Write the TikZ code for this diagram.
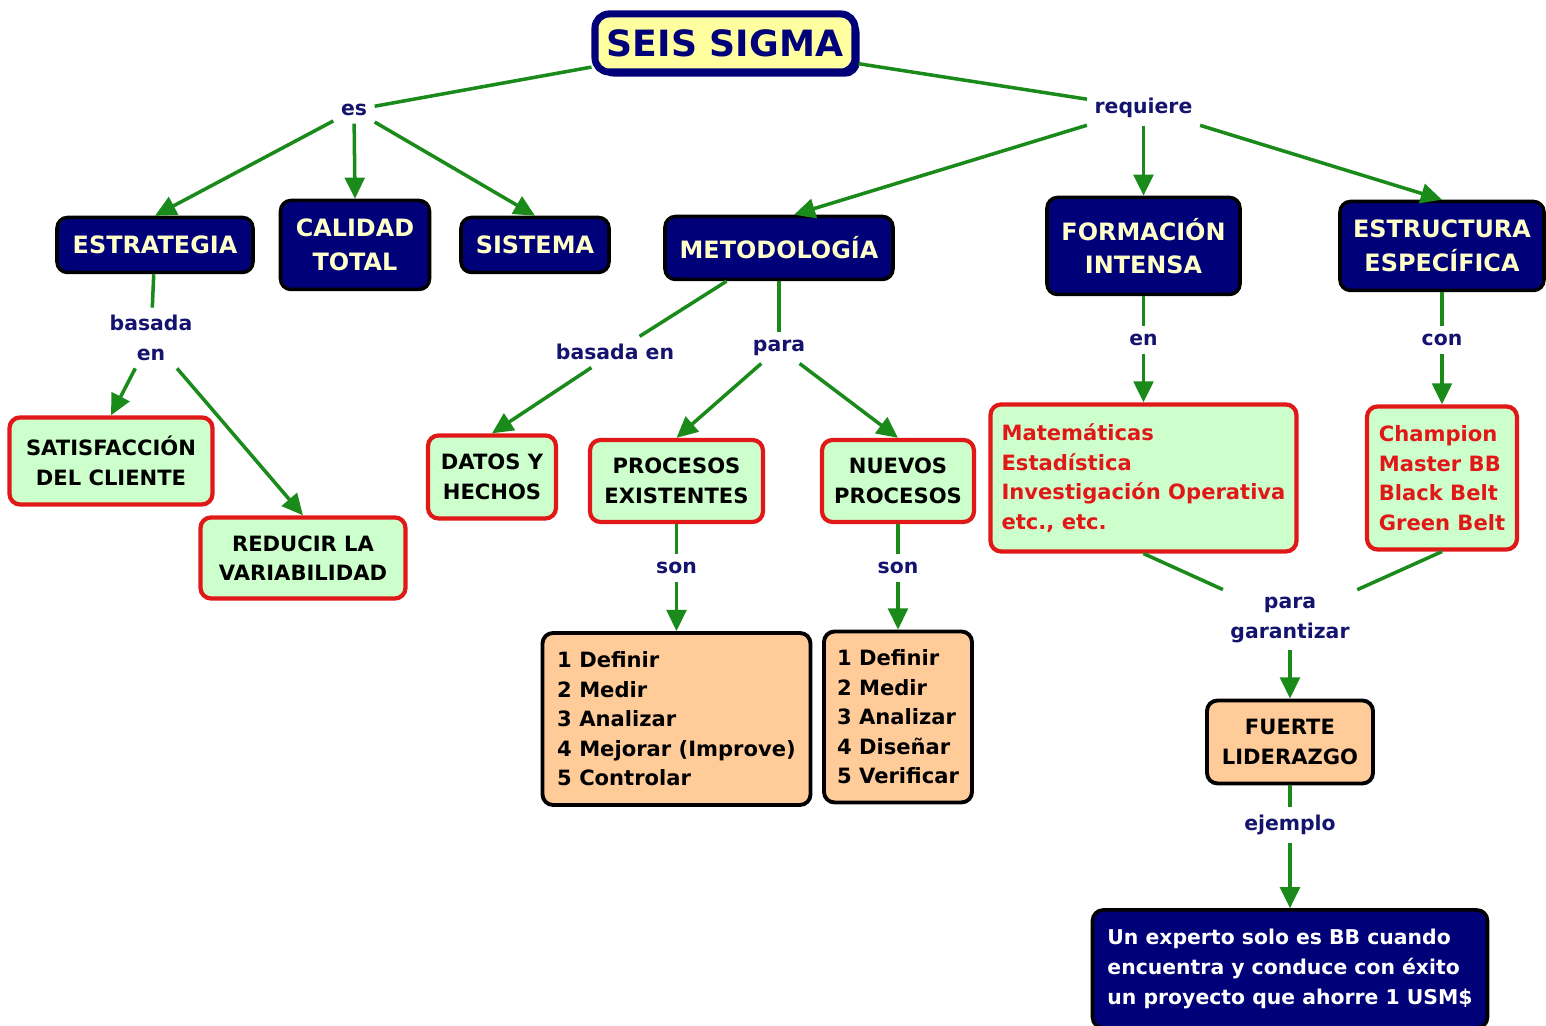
\documentclass[tikz,border=0pt]{standalone}
\usepackage{fontspec}
\setmainfont{DejaVu Sans}
\usepackage{xcolor}
\usetikzlibrary{arrows.meta,shadows}

\definecolor{navyfill}{HTML}{000078}
\definecolor{navytext}{HTML}{14146E}
\definecolor{paleyellow}{HTML}{FFFFC8}
\definecolor{sigmafill}{HTML}{FFFFA0}
\definecolor{mintfill}{HTML}{CCFFCC}
\definecolor{redline}{HTML}{E01818}
\definecolor{peach}{HTML}{FFCC99}
\definecolor{linkgreen}{HTML}{1A8A1A}

\begin{document}
\begin{tikzpicture}[-, font=\bfseries,
  dark node/.style={draw=black, fill=navyfill, text=paleyellow, line width=1pt, rounded corners=3pt, align=center, inner sep=0pt, font=\bfseries\fontsize{6.8}{9.6}\selectfont},
  green node/.style={draw=redline, fill=mintfill, line width=1.2pt, rounded corners=3pt, align=center, inner sep=0pt, font=\bfseries\fontsize{6}{8.4}\selectfont},
  orange node/.style={draw=black, fill=peach, line width=1.1pt, rounded corners=3pt, align=center, inner sep=0pt, font=\bfseries\fontsize{6}{8.4}\selectfont},
  label node/.style={text=navytext, align=center, inner sep=2pt, font=\bfseries\fontsize{5.8}{8.4}\selectfont},
  link/.style={color=linkgreen, line width=1pt},
  arrow link/.style={link, -{Triangle[length=6pt,width=5.6pt]}}]
\useasboundingbox (0,0) rectangle (15.46,10.26);

% concepts
\node[draw=navyfill, fill=sigmafill, text=navyfill, line width=2pt, rounded corners=4pt,
  drop shadow={shadow xshift=1.3pt, shadow yshift=-1.3pt, fill=navyfill, opacity=1},
  font=\bfseries\fontsize{10.3}{12}\selectfont, minimum width=2.6cm, minimum height=0.58cm] (1) at (7.25,9.83) {SEIS SIGMA};
\node[dark node, minimum width=1.96cm, minimum height=0.55cm] (2) at (1.55,7.81) {ESTRATEGIA};
\node[dark node, minimum width=1.49cm, minimum height=0.89cm] (3) at (3.55,7.81) {CALIDAD\\TOTAL};
\node[dark node, minimum width=1.48cm, minimum height=0.55cm] (4) at (5.35,7.81) {SISTEMA};
\node[dark node, minimum width=2.28cm, minimum height=0.63cm] (5) at (7.79,7.78) {METODOLOGÍA};
\node[dark node, minimum width=1.93cm, minimum height=0.97cm] (6) at (11.435,7.80) {FORMACIÓN\\INTENSA};
\node[dark node, minimum width=2.04cm, minimum height=0.89cm] (7) at (14.42,7.80) {ESTRUCTURA\\ESPECÍFICA};
\node[green node, minimum width=2.03cm, minimum height=0.87cm] (8) at (1.11,5.65) {SATISFACCIÓN\\DEL CLIENTE};
\node[green node, minimum width=2.05cm, minimum height=0.81cm] (9) at (3.03,4.68) {REDUCIR LA\\VARIABILIDAD};
\node[green node, minimum width=1.28cm, minimum height=0.83cm] (10) at (4.92,5.49) {DATOS Y\\HECHOS};
\node[green node, minimum width=1.73cm, minimum height=0.82cm] (11) at (6.765,5.45) {PROCESOS\\EXISTENTES};
\node[green node, minimum width=1.52cm, minimum height=0.82cm] (12) at (8.98,5.45) {NUEVOS\\PROCESOS};
\node[orange node, align=left, minimum width=2.68cm, minimum height=1.72cm] (13) at (6.765,3.07)
  {1 Definir\\2 Medir\\3 Analizar\\4 Mejorar (Improve)\\5 Controlar};
\node[orange node, align=left, minimum width=1.48cm, minimum height=1.71cm] (14) at (8.98,3.09)
  {1 Definir\\2 Medir\\3 Analizar\\4 Diseñar\\5 Verificar};
\node[green node, text=redline, align=left, minimum width=3.06cm, minimum height=1.47cm] (15) at (11.435,5.48)
  {Matemáticas\\Estadística\\Investigación Operativa\\etc., etc.};
\node[green node, text=redline, align=left, minimum width=1.50cm, minimum height=1.43cm] (16) at (14.42,5.48)
  {Champion\\Master BB\\Black Belt\\Green Belt};
\node[orange node, minimum width=1.66cm, minimum height=0.83cm] (17) at (12.90,2.84) {FUERTE\\LIDERAZGO};
\node[dark node, text=white, align=left, font=\bfseries\fontsize{5.8}{8.4}\selectfont,
  minimum width=3.95cm, minimum height=1.18cm] (18) at (12.90,0.57)
  {Un experto solo es BB cuando\\encuentra y conduce con éxito\\un proyecto que ahorre 1 USM\$};

% linking phrases
\node[label node] (19) at (3.54,9.16) {es};
\node[label node] (20) at (11.435,9.18) {requiere};
\node[label node] (21) at (1.51,6.88) {basada\\en};
\node[label node] (22) at (6.15,6.74) {basada en};
\node[label node] (23) at (7.79,6.78) {para};
\node[label node] (24) at (6.765,4.58) {son};
\node[label node] (25) at (8.98,4.58) {son};
\node[label node] (26) at (11.435,6.86) {en};
\node[label node] (27) at (14.42,6.86) {con};
\node[label node] (28) at (12.90,4.06) {para\\garantizar};
\node[label node] (29) at (12.90,2.01) {ejemplo};

\path[link]
(1) edge (19)
(1) edge (20)
(2) edge (21)
(5) edge (22)
(5.south) edge (23)
(11) edge (24)
(12) edge (25)
(6) edge (26)
(7) edge (27)
(15.south) edge (28)
(16.south) edge (28)
(17) edge (29);
\path[arrow link]
(19) edge (2.north)
(19) edge (3.north)
(19) edge (4.north)
(20) edge ([xshift=0.15cm]5.north)
(20) edge (6.north)
(20) edge (7.north)
(21) edge (8.north)
(21) edge (9.north)
(22) edge (10.north)
(23) edge (11.north)
(23) edge (12.north)
(24) edge (13.north)
(25) edge (14.north)
(26) edge (15.north)
(27) edge (16.north)
(28) edge (17.north)
(29) edge (18.north);
\end{tikzpicture}
\end{document}
